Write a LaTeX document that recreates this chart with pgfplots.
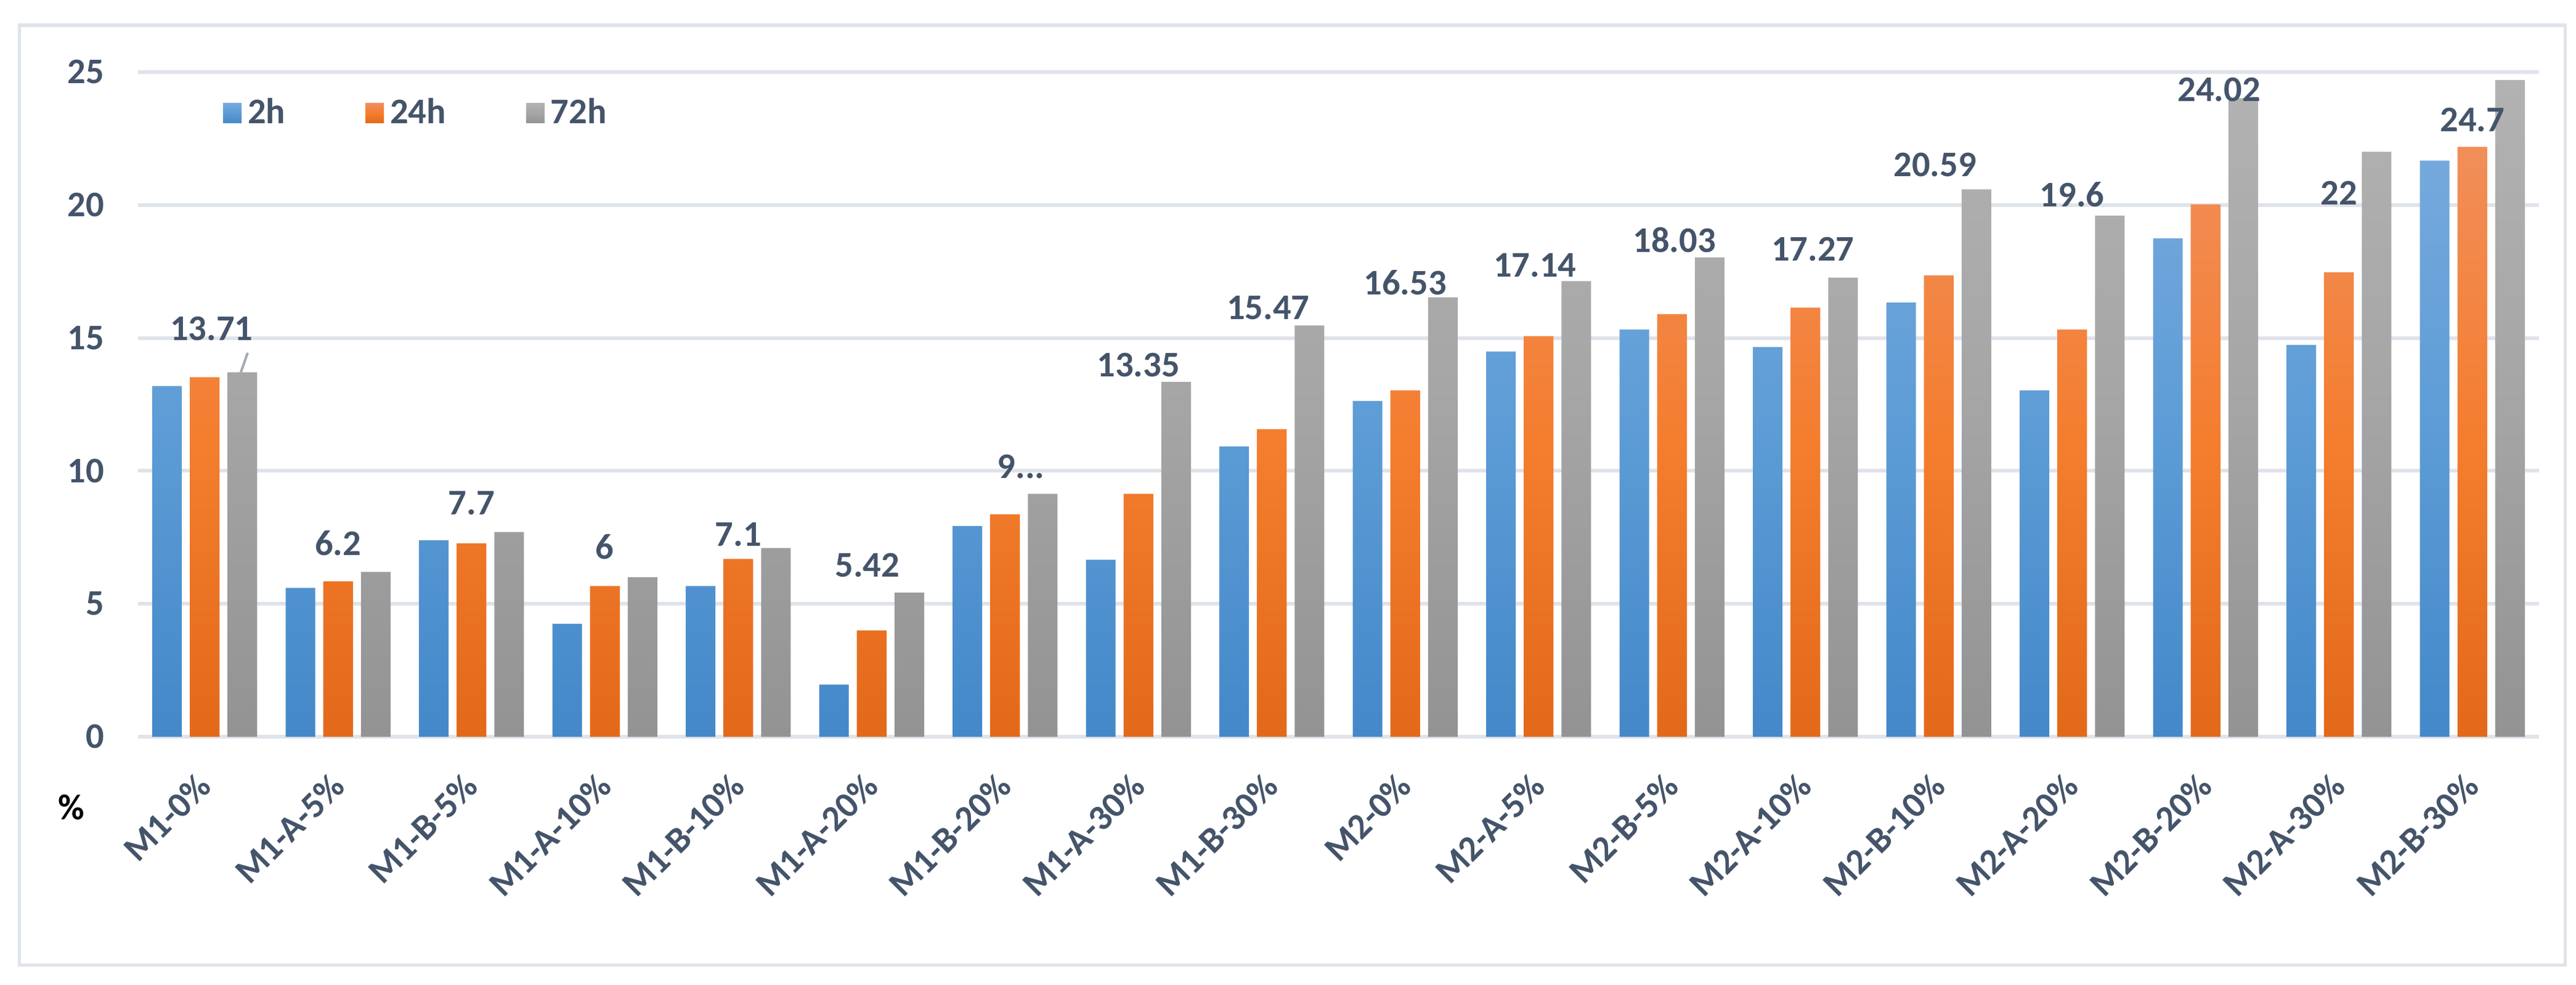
\documentclass[border=0pt]{standalone}
\usepackage{pgfplots}
\pgfplotsset{compat=1.18}
\usepackage{pgfplotstable}
\usepackage{fontspec}
\setmainfont{Carlito}

\definecolor{txt}{HTML}{44546A}
\definecolor{gridc}{HTML}{DFE3EA}
\definecolor{blueT}{HTML}{75A9DD}
\definecolor{blueM}{HTML}{5B9BD5}
\definecolor{blueB}{HTML}{4488C9}
\definecolor{orT}{HTML}{F18E59}
\definecolor{orM}{HTML}{F47D2E}
\definecolor{orB}{HTML}{E3691A}
\definecolor{grT}{HTML}{B2B2B2}
\definecolor{grM}{HTML}{A5A5A5}
\definecolor{grB}{HTML}{939393}

% x = category index, lab = data label on the 72h bar, dx/dy = label offset (pt)
\pgfplotstableread{
x  h2    h24   h72   lab    dx    dy
0  13.19 13.52 13.71 13.71  2.2   14.2
1  5.60  5.85  6.2   6.2    0     9.4
2  7.39  7.27  7.7   7.7    0     9.4
3  4.25  5.67  6     6      0     9.8
4  5.67  6.69  7.1   7.1    0     4.4
5  1.96  4.00  5.42  5.42   -1.4  9.0
6  7.93  8.37  9.14  9...   5.2   8.8
7  6.66  9.14  13.35 13.35  0     5.4
8  10.92 11.57 15.47 15.47  -1.2  5.8
9  12.63 13.03 16.53 16.53  0     4.8
10 14.49 15.07 17.14 17.14  -1.2  5.2
11 15.32 15.89 18.03 18.03  0.8   5.6
12 14.66 16.14 17.27 17.27  2.4   9.2
13 16.33 17.35 20.59 20.59  -1.2  8.0
14 13.03 15.32 19.6  19.6   0     6.8
15 18.75 20.02 24.02 24.02  4.4   2.8
16 14.74 17.47 22    22     0     -13.4
17 21.67 22.19 24.7  24.7   0     -13.0
}\data

\begin{document}
\fontsize{11.7}{14}\selectfont\bfseries
\begin{tikzpicture}
\useasboundingbox (0pt,0pt) rectangle (836.2pt,319.6pt);
\draw[gridc, line width=1pt] (6.2pt,6.4pt) rectangle (832.6pt,311.4pt);
\node[text=black] at (23.2pt,57.4pt) {\%};
\begin{axis}[
    at={(44.8pt,80.4pt)}, anchor=south west,
    scale only axis, width=779.4pt, height=215.8pt,
    xmin=-0.5, xmax=17.5, ymin=0, ymax=25,
    axis line style={draw=none}, major tick length=0pt,
    xtick={0,...,17},
    xticklabels={M1-0\%, M1-A-5\%, M1-B-5\%, M1-A-10\%, M1-B-10\%, M1-A-20\%,
        M1-B-20\%, M1-A-30\%, M1-B-30\%, M2-0\%, M2-A-5\%, M2-B-5\%,
        M2-A-10\%, M2-B-10\%, M2-A-20\%, M2-B-20\%, M2-A-30\%, M2-B-30\%},
    xticklabel style={rotate=45, anchor=east, inner sep=0pt},
    xticklabel shift=14pt,
    ytick={0,5,...,25},
    yticklabel style={anchor=east, inner sep=0pt, xshift=-10.8pt},
    tick label style={text=txt},
    /pgf/number format/assume math mode=true,
    ymajorgrids, grid style={gridc, line width=1.2pt},
    legend columns=3,
    legend style={draw=none, fill=none, text=txt, inner sep=0pt,
        at={(0.0352,0.938)}, anchor=west,
        /tikz/every even column/.append style={column sep=24pt}},
    legend image code/.code={\fill[#1] (0pt,-3.2pt) rectangle (6pt,3.2pt);},
]
\addplot[ybar, bar width=0.222, bar shift=-0.282, draw=none,
    top color=blueT, bottom color=blueB, middle color=blueM]
    table[x=x, y=h2] {\data};
\addlegendentry{2h}
\addplot[ybar, bar width=0.222, bar shift=0, draw=none,
    top color=orT, bottom color=orB, middle color=orM]
    table[x=x, y=h24] {\data};
\addlegendentry{24h}
\addplot[ybar, bar width=0.222, bar shift=0.282, draw=none,
    top color=grT, bottom color=grB, middle color=grM,
    point meta=explicit symbolic,
    visualization depends on={\thisrow{dx} \as \lblx},
    visualization depends on={\thisrow{dy} \as \lbly},
    nodes near coords,
    nodes near coords style={anchor=center, text=txt, xshift=\lblx pt, yshift=\lbly pt}]
    table[x=x, y=h72, meta=lab] {\data};
\addlegendentry{72h}
\draw[color=gridc!60!txt, line width=0.8pt] (axis cs:0.271,13.71) -- (axis cs:0.322,14.44);
\end{axis}
\end{tikzpicture}
\end{document}
